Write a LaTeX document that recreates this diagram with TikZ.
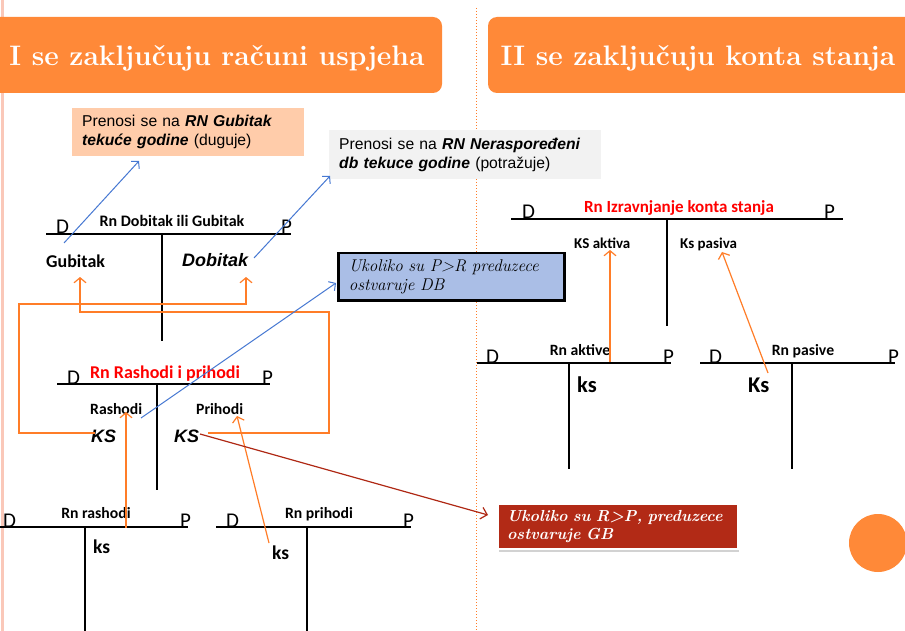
\documentclass[tikz,border=0pt]{standalone}
\usepackage{fontspec}
\newfontfamily\calib{Carlito}
\newfontfamily\arial{Liberation Sans}
\usetikzlibrary{arrows.meta,shadows}
\definecolor{titleor}{RGB}{255,137,56}
\definecolor{arrowor}{RGB}{255,125,40}
\definecolor{peach}{RGB}{255,204,170}
\definecolor{lgray}{RGB}{242,242,242}
\definecolor{bluebox}{RGB}{170,190,230}
\definecolor{redbox}{RGB}{178,42,22}
\definecolor{darkarr}{RGB}{175,40,20}
\definecolor{bluearr}{RGB}{70,120,210}
\definecolor{pinkstrip}{RGB}{250,200,185}
\begin{document}
\begin{tikzpicture}[x=1pt,y=-1pt,
  tl/.style={line width=1.1pt, black},
  dp/.style={font=\calib\fontsize{21}{21}\selectfont, inner sep=0pt, anchor=base west},
  ttl/.style={font=\calib\bfseries\fontsize{16}{16}\selectfont, inner sep=0pt, anchor=base},
  rttl/.style={font=\calib\bfseries\fontsize{18}{18}\selectfont, inner sep=0pt, anchor=base, text=red},
  lb/.style={font=\calib\bfseries\fontsize{15.7}{16}\selectfont, inner sep=0pt, anchor=base west},
  kslow/.style={font=\calib\bfseries\fontsize{19.5}{20}\selectfont, inner sep=0pt, anchor=base west},
  ksbig/.style={font=\calib\bfseries\fontsize{22.5}{23}\selectfont, inner sep=0pt, anchor=base west},
  ari/.style={font=\arial\bfseries\itshape\fontsize{18}{18}\selectfont, inner sep=0pt, anchor=base west},
  titletext/.style={font=\bfseries\fontsize{28.2}{28}\selectfont, text=white, inner sep=0pt, anchor=base},
  oarr/.style={draw=arrowor, line width=1.2pt, -{Straight Barb[length=5pt,width=12pt]}},
  barr/.style={draw=bluearr, line width=1pt, -{Straight Barb[length=5pt,width=11pt]}},
  rarr/.style={draw=darkarr, line width=1.2pt, -{Straight Barb[length=6pt,width=12pt]}}
]
\useasboundingbox (0,0) rectangle (905,631);
\fill[white] (0,0) rectangle (905,631);
% left strip and divider
\fill[pinkstrip] (0.5,0) rectangle (4,631);
\draw[arrowor, line width=1pt, dotted] (476,8) -- (476,631);

% title boxes
\fill[titleor, rounded corners=9pt] (-12,17) rectangle (442,93);
\node[titletext] (t1) at (217,66) {I se zaključuju računi uspjeha};
\fill[titleor, rounded corners=9pt] (488,17) rectangle (920,93);
\node[titletext] (t2) at (698,66) {II se zaključuju konta stanja};

% info boxes
\node[fill=peach, anchor=north west, minimum width=226, minimum height=48,
      inner xsep=10pt, inner ysep=0pt, text width=212pt, align=left,
      font=\arial\fontsize{15.7}{19}\selectfont] (pgub) at (72,108)
  {Prenosi se na \textbf{\textit{RN Gubitak}}\\\textbf{\textit{tekuće godine}} (duguje)};
\node[fill=lgray, anchor=north west, minimum width=265, minimum height=49,
      inner xsep=10pt, inner ysep=0pt, text width=252pt, align=left,
      font=\arial\fontsize{15.7}{19}\selectfont] (pner) at (329,130)
  {Prenosi se na \textbf{\textit{RN Neraspoređeni}}\\\textbf{\textit{db tekuce godine}} (potražuje)};
\node[fill=bluebox, draw=black, line width=2.5pt, anchor=north west, minimum width=226, minimum height=47,
      inner xsep=9pt, inner ysep=0pt, text width=205pt, align=left,
      font=\itshape\fontsize{17}{19}\selectfont] (pdb) at (337,252)
  {Ukoliko su P>R preduzece\\ostvaruje DB};
\node[fill=redbox, draw=white, line width=2pt, drop shadow={opacity=0.35, shadow xshift=1pt, shadow yshift=-2.5pt},
      anchor=north west, minimum width=239, minimum height=45, text=white,
      inner xsep=9pt, inner ysep=0pt, text width=222pt, align=left,
      font=\bfseries\itshape\fontsize{16}{18}\selectfont] (pgb) at (497,503)
  {Ukoliko su R>P, preduzece\\ostvaruje GB};

% T-account: Rn Dobitak ili Gubitak
\draw[tl] (46,234) -- (291,234);
\draw[tl] (162,234) -- (162,341);
\node[dp] (d1) at (56,234) {D};
\node[dp] (p1) at (281,234) {P};
\node[ttl] (tdg) at (172,226) {Rn Dobitak ili Gubitak};
\node[font=\calib\bfseries\fontsize{18}{18}\selectfont, inner sep=0pt, anchor=base west] (gub) at (46,267) {Gubitak};
\node[ari] (dob) at (182,266) {Dobitak};

% T-account: Rn Rashodi i prihodi
\draw[tl] (57,384) -- (270,384);
\draw[tl] (157,384) -- (157,490);
\node[dp] (d2) at (67,384) {D};
\node[dp] (p2) at (262,384) {P};
\node[rttl] (trp) at (165,378) {Rn Rashodi i prihodi};
\node[lb] (ras) at (90,414) {Rashodi};
\node[lb] (pri) at (196,414) {Prihodi};
\node[ari] (ks1) at (91,442) {KS};
\node[ari] (ks2) at (174,442) {KS};

% T-account: Rn rashodi
\draw[tl] (0,527) -- (188,527);
\draw[tl] (85,527) -- (85,631);
\node[dp] (d3) at (3,527) {D};
\node[dp] (p3) at (180,527) {P};
\node[lb, anchor=base] (trr) at (96,518) {Rn rashodi};
\node[kslow] (ks3) at (93,553) {ks};

% T-account: Rn prihodi
\draw[tl] (216,527) -- (411,527);
\draw[tl] (307,527) -- (307,631);
\node[dp] (d4) at (226,527) {D};
\node[dp] (p4) at (403,527) {P};
\node[lb, anchor=base] (trpr) at (319,518) {Rn prihodi};
\node[kslow] (ks4) at (272,559) {ks};

% T-account: Rn Izravnjanje konta stanja
\draw[tl] (511,219) -- (843,219);
\draw[tl] (667,219) -- (667,326);
\node[dp] (d5) at (522,219) {D};
\node[dp] (p5) at (824,219) {P};
\node[rttl, font=\calib\bfseries\fontsize{17}{17}\selectfont] (tiz) at (679,213) {Rn Izravnjanje konta stanja};
\node[lb, font=\calib\bfseries\fontsize{15}{15}\selectfont] (ksa) at (574,248) {KS aktiva};
\node[lb, font=\calib\bfseries\fontsize{15}{15}\selectfont] (ksp) at (680,248) {Ks pasiva};

% T-account: Rn aktive
\draw[tl] (477,363) -- (671,363);
\draw[tl] (569,363) -- (569,469);
\node[dp] (d6) at (486,363) {D};
\node[dp] (p6) at (663,363) {P};
\node[lb, anchor=base] (tak) at (580,355) {Rn aktive};
\node[ksbig] (ks5) at (577,392) {ks};

% T-account: Rn pasive
\draw[tl] (700,363) -- (895,363);
\draw[tl] (792,363) -- (792,469);
\node[dp] (d7) at (709,363) {D};
\node[dp] (p7) at (888,363) {P};
\node[lb, anchor=base] (tpa) at (803,355) {Rn pasive};
\node[ksbig] (ks6) at (748,392) {Ks};

% coordinates for connector ends
\coordinate (b1s) at (64,243);
\coordinate (b1e) at (139,161);
\coordinate (b2s) at (254,258);
\coordinate (b2e) at (330,176);
\coordinate (b3s) at (141,418);
\coordinate (b3e) at (336,283);
\coordinate (r1s) at (200,434);
\coordinate (r1e) at (488,515);
\coordinate (o1s) at (126,528);
\coordinate (o1e) at (126,412);
\coordinate (o2s) at (269,543);
\coordinate (o2e) at (237,416);
\coordinate (l1s) at (95,433);
\coordinate (l1e) at (246,277);
\coordinate (l2s) at (208,433);
\coordinate (l2e) at (80,277);
\coordinate (o3s) at (610,362);
\coordinate (o3e) at (610,250);
\coordinate (o4s) at (768,373);
\coordinate (o4e) at (722,252);

% orange loops
\draw[oarr] (l1s) -- (19,433) -- (19,304) -- (246,304) -- (l1e);
\draw[oarr] (l2s) -- (329,433) -- (329,312) -- (80,312) -- (l2e);
% orange arrows
\draw[oarr] (o1s) -- (o1e);
\draw[oarr] (o2s) -- (o2e);
\draw[oarr] (o3s) -- (o3e);
\draw[oarr] (o4s) -- (o4e);
% blue arrows
\draw[barr] (b1s) -- (b1e);
\draw[barr] (b2s) -- (b2e);
\draw[barr] (b3s) -- (b3e);
% dark red arrow
\draw[rarr] (r1s) -- (r1e);

% orange circle
\fill[titleor] (878,543) circle (29);
\end{tikzpicture}
\end{document}
